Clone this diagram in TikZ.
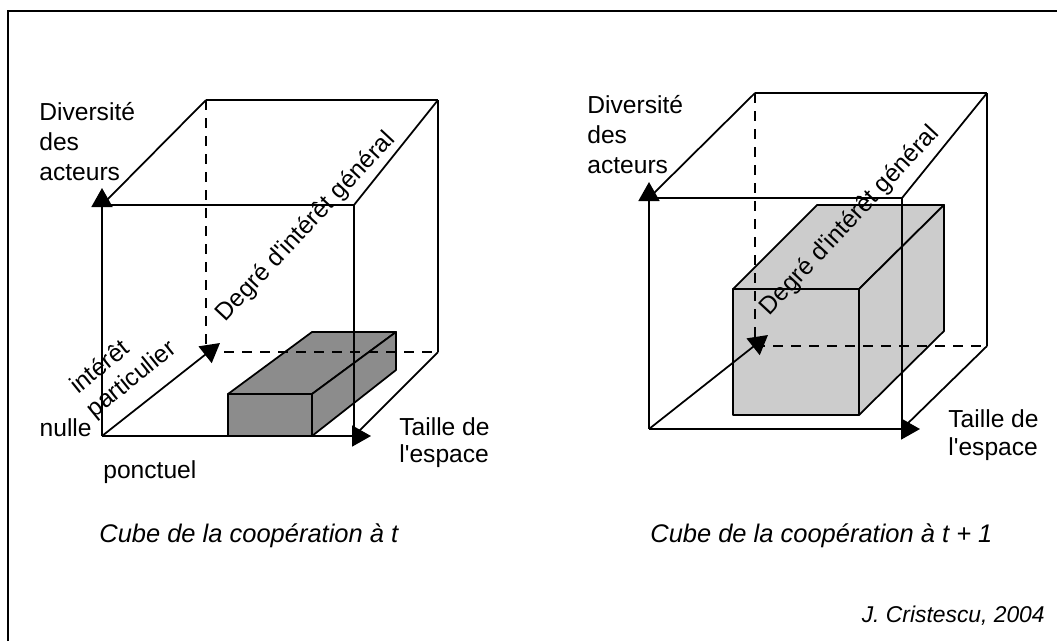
\documentclass[tikz,border=0pt]{standalone}
\usepackage{fontspec}
\setmainfont{Liberation Sans}
\usetikzlibrary{arrows.meta}
\definecolor{boxdark}{RGB}{140,140,140}
\definecolor{boxlight}{RGB}{204,204,204}
\newcommand{\apos}{\textquotesingle}
\begin{document}
\begin{tikzpicture}[x=0.2mm,y=-0.2mm,
    edge/.style={line width=1pt},
    hidden/.style={edge,dash pattern=on 2mm off 1.6mm},
    axis/.style={edge,-{Triangle[length=3.8mm,width=4.2mm]}},
    blk/.style={edge,line join=round,fill=#1},
    lbl/.style={inner sep=0pt,font=\fontsize{14}{17}\selectfont},
    capt/.style={inner sep=0pt,font=\fontsize{14.5}{17}\selectfont\itshape}
  ]
  \useasboundingbox (0,0) rectangle (1057,641);
  %% frame (cut at right and bottom)
  \coordinate (fr1) at (8,641);
  \coordinate (fr2) at (8,11);
  \coordinate (fr3) at (1057,11);
  \draw[line width=1.3pt] (fr1) -- (fr2) -- (fr3);
  %% corners of the two cubes
  \coordinate (O1)   at (102,436);
  \coordinate (FTL1) at (102,205);
  \coordinate (FTR1) at (354,205);
  \coordinate (FBR1) at (354,436);
  \coordinate (BTL1) at (206,100);
  \coordinate (BTR1) at (438,100);
  \coordinate (BBR1) at (438,352);
  \coordinate (BBL1) at (206,352);
  \coordinate (V1)   at (102,188);
  \coordinate (H1)   at (371,436);
  \coordinate (D1)   at (220,343);
  \coordinate (O2)   at (649,429);
  \coordinate (FTL2) at (649,198);
  \coordinate (FTR2) at (902,198);
  \coordinate (FBR2) at (902,429);
  \coordinate (BTL2) at (755,93);
  \coordinate (BTR2) at (987,93);
  \coordinate (BBR2) at (987,346);
  \coordinate (BBL2) at (755,346);
  \coordinate (V2)   at (649,182);
  \coordinate (H2)   at (920,429);
  \coordinate (D2)   at (768,335);
  %% cooperation blocks
  \draw[blk=boxdark] (228,394) rectangle (312,436);
  \draw[blk=boxdark] (228,394) -- (312,332) -- (396,332) -- (312,394) -- cycle;
  \draw[blk=boxdark] (312,394) -- (396,332) -- (396,370) -- (312,436) -- cycle;
  \draw[blk=boxlight] (733,289) rectangle (859,415);
  \draw[blk=boxlight] (733,289) -- (817,205) -- (944,205) -- (859,289) -- cycle;
  \draw[blk=boxlight] (859,289) -- (944,205) -- (944,331) -- (859,415) -- cycle;
  %% cube edges and axes
  \foreach \c in {1,2} {
    \foreach \a/\b in {FTL/FTR,FTR/FBR,BTL/BTR,BTR/BBR,BTL/FTL,BTR/FTR,BBR/FBR}
      \draw[edge] (\a\c) -- (\b\c);
    \draw[hidden] (BTL\c) -- (BBL\c);
    \draw[hidden] (BBL\c) -- (BBR\c);
    \foreach \t in {V,H,D}
      \draw[axis] (O\c) -- (\t\c);
  }
  %% labels, cube at t
  \node[lbl,anchor=base west] (div1) at (39,120) {Diversité};
  \node[lbl,anchor=base west] (des1) at (39,150) {des};
  \node[lbl,anchor=base west] (act1) at (39,180) {acteurs};
  \node[lbl,anchor=base east] (nul1) at (92,436) {nulle};
  \node[lbl,anchor=base west] (pon1) at (103,478) {ponctuel};
  \node[lbl,rotate=39] (int1) at (99,366) {intérêt};
  \node[lbl,rotate=39] (par1) at (132,380) {particulier};
  \node[lbl,rotate=47] (deg1) at (306,227) {Degré d\apos{}intérêt général};
  \node[lbl,anchor=base west] (tai1) at (399,435) {Taille de};
  \node[lbl,anchor=base west] (esp1) at (399,462) {l\apos{}espace};
  \node[capt,anchor=base west] (cap1) at (99,542) {Cube de la coopération à t};
  %% labels, cube at t + 1
  \node[lbl,anchor=base west] (div2) at (587,113) {Diversité};
  \node[lbl,anchor=base west] (des2) at (587,143) {des};
  \node[lbl,anchor=base west] (act2) at (587,173) {acteurs};
  \node[lbl,rotate=47] (deg2) at (850,221) {Degré d\apos{}intérêt général};
  \node[lbl,anchor=base west] (tai2) at (948,427) {Taille de};
  \node[lbl,anchor=base west] (esp2) at (948,455) {l\apos{}espace};
  \node[capt,anchor=base west] (cap2) at (650,542) {Cube de la coopération à t + 1};
  \node[capt,anchor=base east,font=\fontsize{13}{15}\selectfont\itshape] (src) at (1045,622) {J. Cristescu, 2004};
\end{tikzpicture}
\end{document}
